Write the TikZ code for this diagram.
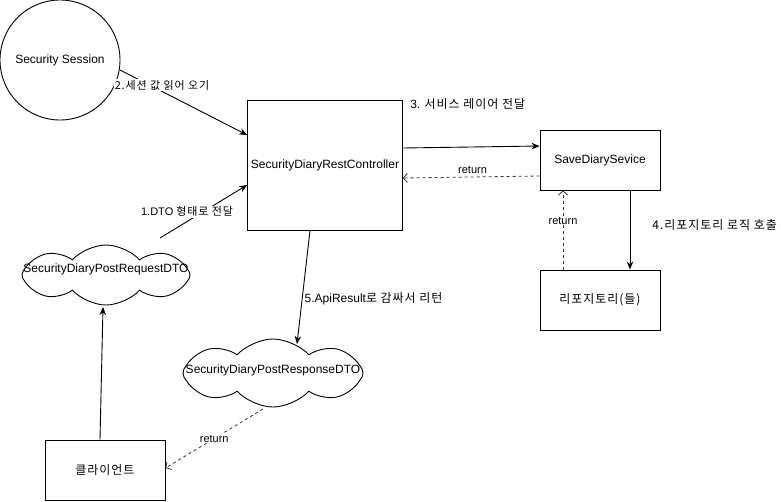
\documentclass[tikz,border=0pt]{standalone}
\usepackage{fontspec}
\setmainfont{Liberation Sans}
\newfontfamily\kr[LetterSpace=8]{Noto Sans CJK KR}
\usetikzlibrary{shapes.symbols, arrows.meta, positioning}

\begin{document}
\begin{tikzpicture}[x=1pt, y=-1pt,
    box/.style={rectangle, draw=black, line width=0.9pt, fill=white,
                minimum width=#1, font=\fontsize{12}{14}\selectfont},
    session/.style={circle, draw=black, line width=0.9pt, minimum size=120pt,
                    inner sep=0pt, font=\fontsize{12}{14}\selectfont},
    dto/.style={cloud, cloud puffs=8, cloud puff arc=95, cloud ignores aspect,
                draw=black, line width=0.9pt, inner sep=0pt},
    txt/.style={font=\fontsize{12}{14}\selectfont, inner sep=0pt},
    elabel/.style={font=\fontsize{11}{13}\selectfont, fill=white, inner sep=1pt},
    biglabel/.style={elabel, font=\fontsize{12}{14}\selectfont},
    arr/.style={-{Stealth[length=8pt, width=6.5pt]}, line width=0.9pt},
    retarr/.style={-{Straight Barb[length=4pt, width=9pt]}, line width=0.8pt,
                   dash pattern=on 3pt off 3pt, black!80}
]
\useasboundingbox (0,0) rectangle (781,501);

\node[session] (sess) at (60,60) {Security Session};
\node[box=150pt, minimum height=130pt] (ctrl) at (325,165) {SecurityDiaryRestController};
\node[box=120pt, minimum height=60pt] (svc) at (600,160) {SaveDiarySevice};
\node[box=120pt, minimum height=60pt] (repo) at (600,300) {\kr 리포지토리(들)};
\node[box=120pt, minimum height=60pt] (cli) at (105,470) {\kr 클라이언트};

\node[dto, minimum width=168pt, minimum height=60pt] (req) at (106,275) {};
\node[txt] (reqlbl) at ([yshift=6pt]req.center) {SecurityDiaryPostRequestDTO};
\node[dto, minimum width=180pt, minimum height=68pt] (resp) at (273,373) {};
\node[txt] (resplbl) at ([yshift=3pt]resp.center) {SecurityDiaryPostResponseDTO};

% request flow
\draw[arr] ([shift={(60pt,-10pt)}]sess.center) -- ([yshift=30pt]ctrl.west)
    node[elabel, pos=0.33, yshift=6pt] {\kr 2.세션 값 읽어 오기};
\draw[arr] ([shift={(54pt,37pt)}]req.center) -- ([yshift=-20pt]ctrl.west)
    node[elabel, pos=0.31, yshift=10pt] {1.DTO {\kr 형태로 전달}};
\draw[arr] ([yshift=17pt]ctrl.east) -- ([yshift=14pt]svc.west)
    node[biglabel, pos=0, anchor=west, xshift=6pt, yshift=44pt] {3. {\kr 서비스 레이어 전달}};
\draw[arr] ([xshift=30pt]svc.south) -- ([xshift=30pt]repo.north)
    node[biglabel, pos=0.44, anchor=west, xshift=21pt] {\kr 4.리포지토리 로직 호출};
\draw[arr] ([xshift=-15pt]ctrl.south) -- ([shift={(24pt,29pt)}]resp.center)
    node[biglabel, pos=0.6, anchor=west, xshift=1pt, fill=none] {5.ApiResult{\kr 로 감싸서 리턴}};
\draw[arr] ([xshift=-5pt]cli.north) -- ([shift={(-3pt,-32pt)}]req.center);

% returns
\draw[retarr] ([yshift=-16pt]svc.west) -- ([yshift=-13pt]ctrl.east)
    node[elabel, pos=0.49, above=2pt, text=black] {return};
\draw[retarr] ([xshift=-37pt]repo.north) -- ([xshift=-37pt]svc.south)
    node[elabel, pos=0.62, text=black] {return};
\draw[retarr] ([shift={(-10pt,-36pt)}]resp.center) -- ([yshift=2pt]cli.east)
    node[elabel, pos=0.5, text=black] {return};
\end{tikzpicture}
\end{document}
